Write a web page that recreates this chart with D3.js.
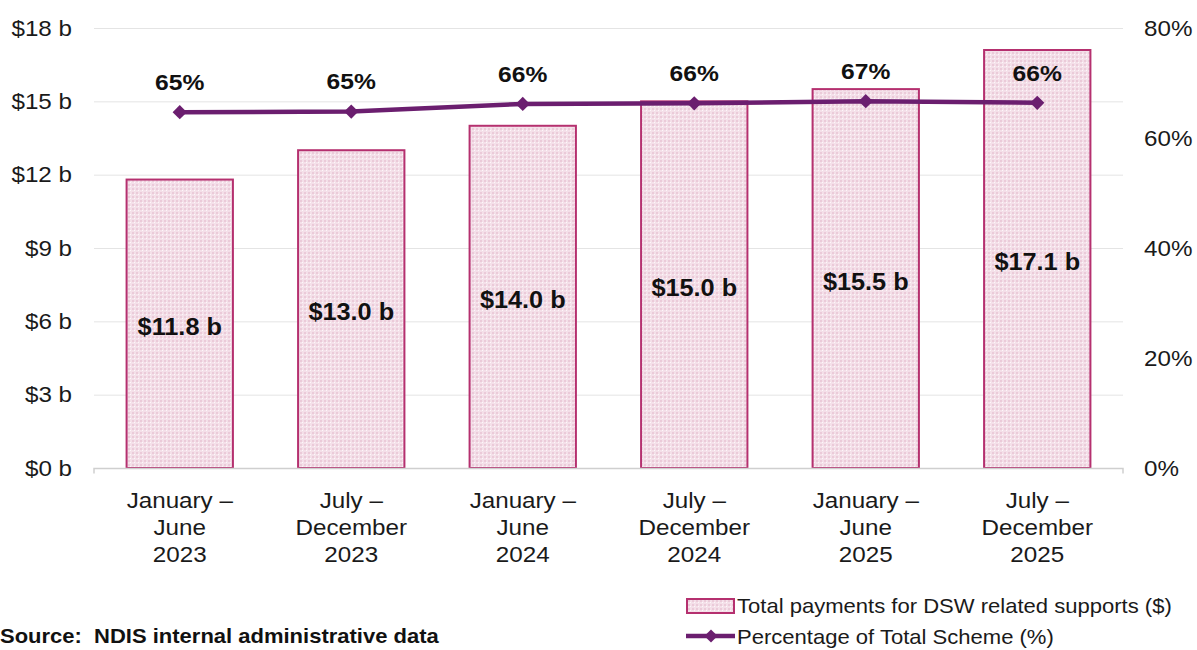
<!DOCTYPE html>
<html>
<head>
<meta charset="utf-8">
<script src="https://cdn.jsdelivr.net/npm/d3@7"></script>
<style>
  html, body { margin: 0; padding: 0; background: #fff; }
  svg { display: block; font-family: "Liberation Sans", Arial, sans-serif; }
</style>
</head>
<body>
<svg id="chart" width="1197" height="650"></svg>
<script>
// Half-year periods (each label split over three lines)
const periods = [
  ["January –", "June", "2023"],
  ["July –", "December", "2023"],
  ["January –", "June", "2024"],
  ["July –", "December", "2024"],
  ["January –", "June", "2025"],
  ["July –", "December", "2025"]
];
// Total payments for DSW related supports ($ billion)
const payments = [11.8, 13.0, 14.0, 15.0, 15.5, 17.1];
// Share of total scheme payments (%)
const sharePct = [64.7, 64.8, 66.2, 66.3, 66.7, 66.4];
const leftTicks = [0, 3, 6, 9, 12, 15, 18];
const rightTicks = [0, 20, 40, 60, 80];

const svg = d3.select("#chart");
const margin = { left: 94, right: 74, top: 28, bottom: 182 };
const W = 1197, H = 650;
const x0 = margin.left, x1 = W - margin.right;
const yTop = margin.top, yBot = H - margin.bottom;

const x = d3.scaleBand().domain(d3.range(periods.length)).range([x0, x1]).paddingInner(0.38).paddingOuter(0.19);
const yL = d3.scaleLinear().domain([0, 18]).range([yBot, yTop]);
const yR = d3.scaleLinear().domain([0, 80]).range([yBot, yTop]);

// Text in a slightly widened face, placed at (tx, ty)
function label(parent, tx, ty, str, opts) {
  const o = Object.assign({ size: 22, weight: "normal", anchor: "middle", sx: 1.1, fill: "#1a1a1a" }, opts || {});
  return parent.append("text")
    .attr("transform", `translate(${tx},${ty}) scale(${o.sx},1)`)
    .attr("dy", "0.35em")
    .attr("text-anchor", o.anchor)
    .attr("font-size", o.size)
    .attr("font-weight", o.weight)
    .attr("fill", o.fill)
    .attr("xml:space", "preserve")
    .text(str);
}

// Dotted fill for the bars
const defs = svg.append("defs");
const pat = defs.append("pattern").attr("id", "dots").attr("patternUnits", "userSpaceOnUse")
  .attr("width", 4).attr("height", 4);
pat.append("rect").attr("width", 4).attr("height", 4).attr("fill", "#f4e0e9");
pat.append("rect").attr("x", 0).attr("y", 0).attr("width", 2).attr("height", 2).attr("fill", "#ebcbd9");
pat.append("rect").attr("x", 2).attr("y", 2).attr("width", 1).attr("height", 1).attr("fill", "#fdf8fa");

// Gridlines
svg.append("g").selectAll("line").data(leftTicks.filter(d => d > 0)).join("line")
  .attr("x1", x0).attr("x2", x1)
  .attr("y1", d => yL(d) + 0.5).attr("y2", d => yL(d) + 0.5)
  .attr("stroke", "#e4e4e4").attr("stroke-width", 1);

// Bars
const bw = x.bandwidth();
svg.append("g").selectAll("rect").data(payments).join("rect")
  .attr("x", (d, i) => x(i)).attr("width", bw)
  .attr("y", d => yL(d)).attr("height", d => yBot - yL(d))
  .attr("fill", "url(#dots)").attr("stroke", "#b5306f").attr("stroke-width", 2);

// Baseline with end ticks
const axisY = yBot + 0.5;
svg.append("path")
  .attr("d", `M${x0},${axisY + 5}V${axisY}H${x1}V${axisY + 5}`)
  .attr("fill", "none").attr("stroke", "#cfcfcf").attr("stroke-width", 1.5);

// Left axis labels
const gL = svg.append("g");
leftTicks.forEach(d => label(gL, 72, yL(d), `$${d} b`, { anchor: "end" }));

// Right axis labels
const gR = svg.append("g");
rightTicks.forEach(d => label(gR, 1144, yR(d), `${d}%`, { anchor: "start" }));

// Category labels
const gC = svg.append("g");
periods.forEach((lines, i) => {
  lines.forEach((s, j) => label(gC, x(i) + bw / 2, 500 + j * 27, s));
});

// Bar value labels
const gV = svg.append("g");
payments.forEach((d, i) => label(gV, x(i) + bw / 2, (yL(d) + yBot) / 2 + 3, `$${d.toFixed(1)} b`,
  { size: 23, weight: "bold", fill: "#111" }));

// Share line
const lineColor = "#6b1e6f";
const line = d3.line().x((d, i) => x(i) + bw / 2).y(d => yR(d));
svg.append("path").datum(sharePct).attr("d", line)
  .attr("fill", "none").attr("stroke", lineColor).attr("stroke-width", 4.5);
svg.append("g").selectAll("path").data(sharePct).join("path")
  .attr("transform", (d, i) => `translate(${x(i) + bw / 2},${yR(d)})`)
  .attr("d", d3.symbol(d3.symbolDiamond2, 130))
  .attr("fill", lineColor);

// Share labels
const gS = svg.append("g");
sharePct.forEach((d, i) => label(gS, x(i) + bw / 2, yR(d) - 30, `${Math.round(d)}%`,
  { weight: "bold", fill: "#111", sx: 1.12 }));

// Legend
const lg = svg.append("g");
lg.append("rect").attr("x", 687).attr("y", 599).attr("width", 47).attr("height", 14)
  .attr("fill", "url(#dots)").attr("stroke", "#b5306f").attr("stroke-width", 2);
label(lg, 737, 606, "Total payments for DSW related supports ($)", { size: 21, anchor: "start", sx: 1.05 });
lg.append("line").attr("x1", 686).attr("x2", 735).attr("y1", 636).attr("y2", 636)
  .attr("stroke", lineColor).attr("stroke-width", 4.5);
lg.append("path").attr("transform", "translate(711,636)")
  .attr("d", d3.symbol(d3.symbolDiamond2, 110)).attr("fill", lineColor);
label(lg, 737, 637, "Percentage of Total Scheme (%)", { size: 21, anchor: "start", sx: 1.05 });

// Source note
label(svg, 0, 636, "Source:  NDIS internal administrative data",
  { size: 20, weight: "bold", anchor: "start", fill: "#111", sx: 1.1 });
</script>
</body>
</html>
